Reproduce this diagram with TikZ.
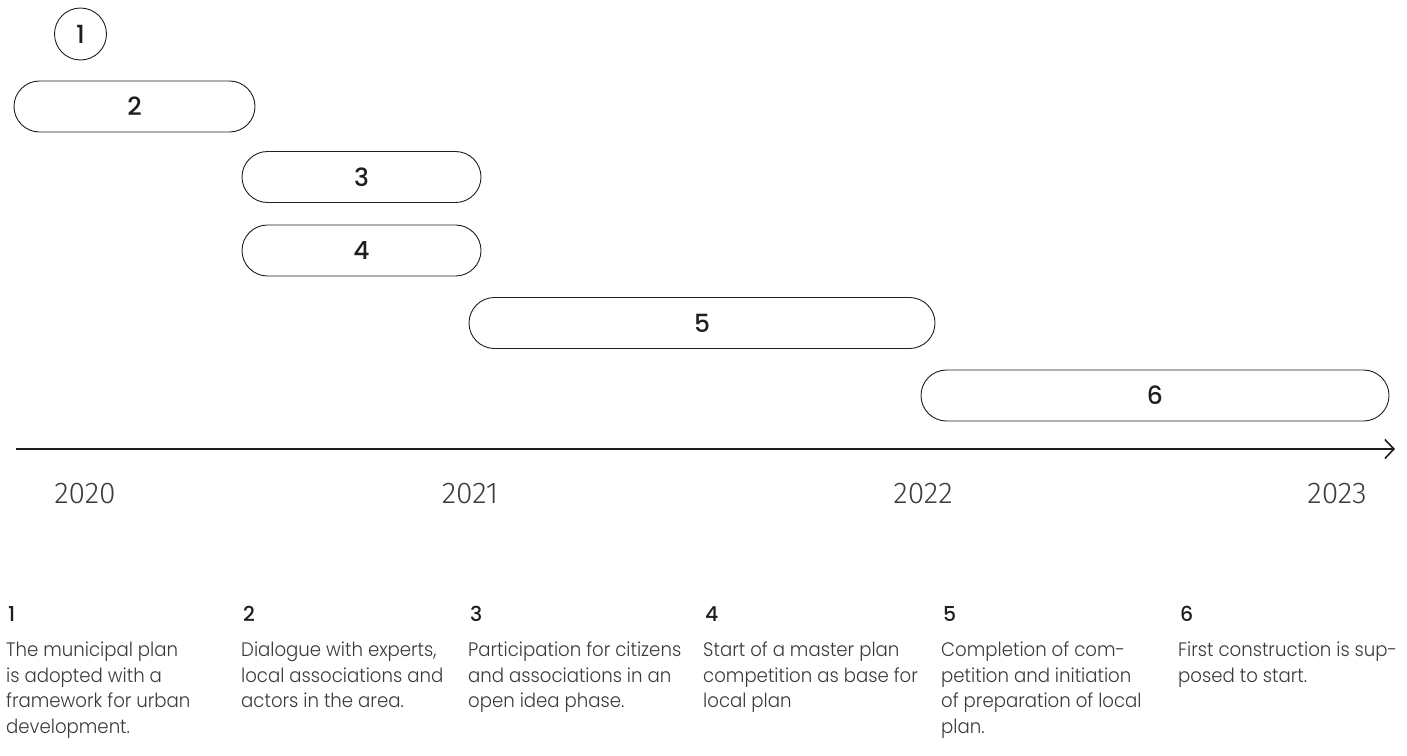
\documentclass[tikz,border=0pt]{standalone}
\usepackage{fontspec}
\setmainfont{Poppins}
\newfontfamily\lightf{Poppins Light}[FakeStretch=0.93]
\newfontfamily\numf{Poppins Medium}
\newfontfamily\yearf{Fira Sans Light}
\usetikzlibrary{arrows.meta}
\definecolor{ink}{HTML}{1E1E1E}
\definecolor{txt}{HTML}{3A3A3A}
\definecolor{yr}{HTML}{3C3C3C}
\tikzset{
  pill/.style={draw=ink, line width=0.9pt, rounded corners=25.5pt, minimum height=51pt, inner sep=0pt, font=\numf\fontsize{25}{25}\selectfont, text=ink},
  yearlbl/.style={font=\yearf\fontsize{30}{30}\selectfont, text=yr, inner sep=0pt},
  colnum/.style={font=\numf\fontsize{20.5}{20.5}\selectfont, text=ink, anchor=base west, inner sep=0pt},
  coltxt/.style={font=\lightf\fontsize{19.5}{25.5}\selectfont, text=txt, anchor=north west, inner sep=0pt, align=left}
}
\begin{document}
\begin{tikzpicture}[x=1pt,y=-1pt]
\useasboundingbox (0,0) rectangle (1407,755);
% circle 1
\node[draw=ink, line width=0.9pt, circle, minimum size=52pt, inner sep=0pt, font=\numf\fontsize{25}{25}\selectfont, text=ink] (c1) at (80.5,34) {1};
% pills
\node[pill, minimum width=241pt] (p2) at (134.5,106.5) {2};
\node[pill, minimum width=239pt] (p3) at (361.5,177) {3};
\node[pill, minimum width=239pt] (p4) at (361.5,250.5) {4};
\node[pill, minimum width=466pt] (p5) at (702,323) {5};
\node[pill, minimum width=468pt] (p6) at (1155,395.5) {6};
% axis
\coordinate (a0) at (16,449);
\coordinate (a1) at (1395,449);
\draw[ink, line width=1.2pt, -{Straight Barb[length=9pt,width=19pt,line width=1.6pt]}] (a0) -- (a1);
% years
\node[yearlbl] (y0) at (85,494) {2020};
\node[yearlbl] (y1) at (470,494) {2021};
\node[yearlbl] (y2) at (923,494) {2022};
\node[yearlbl] (y3) at (1337,494) {2023};
% columns
\node[colnum] (n1) at (8,621) {1};
\node[colnum] (n2) at (243,621) {2};
\node[colnum] (n3) at (470,621) {3};
\node[colnum] (n4) at (705,621) {4};
\node[colnum] (n5) at (943,621) {5};
\node[colnum] (n6) at (1180,621) {6};
\node[coltxt] (t1) at (6,642) {The municipal plan\\is adopted with a\\framework for urban\\development.};
\node[coltxt] (t2) at (241,642) {Dialogue with experts,\\local associations and\\actors in the area.};
\node[coltxt] (t3) at (468,642) {Participation for citizens\\and associations in an\\open idea phase.};
\node[coltxt] (t4) at (703,642) {Start of a master plan\\competition as base for\\local plan};
\node[coltxt] (t5) at (941,642) {Completion of com-\\petition and initiation\\of preparation of local\\plan.};
\node[coltxt] (t6) at (1178,642) {First construction is sup-\\posed to start.};
\end{tikzpicture}
\end{document}
